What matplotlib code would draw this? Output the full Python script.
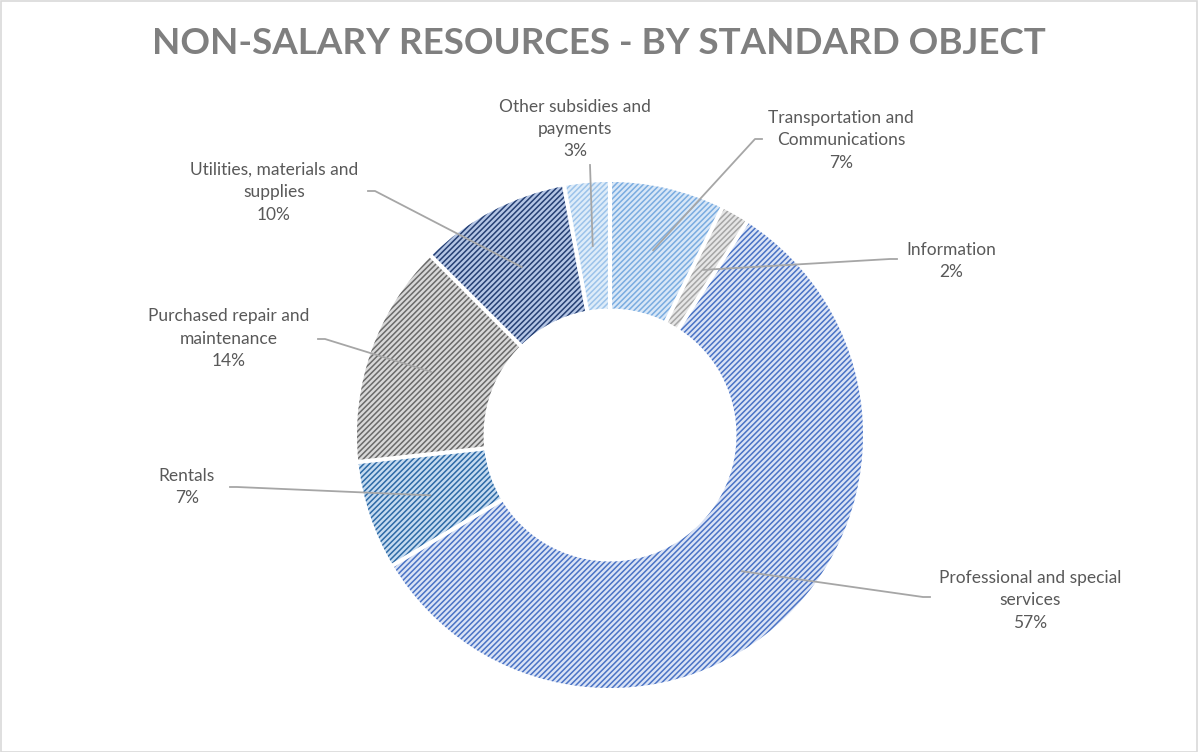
import numpy as np
import matplotlib.pyplot as plt
from matplotlib.patches import Rectangle

plt.rcParams['font.family'] = ['Lato', 'DejaVu Sans']
plt.rcParams['hatch.linewidth'] = 1.1

# data (clockwise from 12 o'clock)
categories = ['Transportation and\nCommunications', 'Information',
              'Professional and special\nservices', 'Rentals',
              'Purchased repair and\nmaintenance', 'Utilities, materials and\nsupplies',
              'Other subsidies and\npayments']
shares = [7.3, 1.8, 57.3, 6.9, 14.2, 9.6, 2.9]
pct_labels = ['7%', '2%', '57%', '7%', '14%', '10%', '3%']

face_cols = ['#d8e7f7', '#e6e6e6', '#dae3f5', '#c5dbf0', '#d8d8d8', '#b5c6e5', '#deecf9']
hatch_cols = ['#7aace0', '#a5a5a5', '#4a73c5', '#2d6aa6', '#6a6a6a', '#253f73', '#9cc3ea']

# label text centres in pixel coords (x, y from top)
label_pos = [(841, 140), (951, 261), (1030, 600), (187, 487),
             (229, 339), (274, 192), (575, 129)]

W, H = 1198, 752
fig = plt.figure(figsize=(W / 100, H / 100), dpi=100)
ax = fig.add_axes([0, 0, 1, 1])

cx, cy, R = 610, H - 435, 253
wedges, _ = ax.pie(shares, center=(cx, cy), radius=R, startangle=90,
                   counterclock=False, frame=True,
                   wedgeprops=dict(width=R * 0.5, linewidth=0))
ax.set_xlim(0, W)
ax.set_ylim(0, H)
ax.set_aspect('equal')
ax.axis('off')

for w, fc, hc in zip(wedges, face_cols, hatch_cols):
    w.set_facecolor(fc)
    w.set_edgecolor(hc)
    w.set_hatch('//////')
    w.set_linewidth(0)

# white separators between slices
for w in wedges:
    t = np.deg2rad(w.theta1)
    ax.plot([cx + R * 0.49 * np.cos(t), cx + R * 1.01 * np.cos(t)],
            [cy + R * 0.49 * np.sin(t), cy + R * 1.01 * np.sin(t)],
            color='white', lw=3, solid_capstyle='butt', zorder=3)

txt_col = '#595959'
for cat, pct, (lx, ly) in zip(categories, pct_labels, label_pos):
    ax.text(lx, H - ly, cat + '\n' + pct, ha='center', va='center', fontsize=12.5,
            color=txt_col, linespacing=1.5, zorder=5)

# leader lines: label anchor, short horizontal elbow, point in slice
anchors = [(762, 139, 'h'), (897, 259, 'h'), (930, 597, 'h'), (230, 487, 'h'),
           (318, 339, 'h'), (368, 191, 'h'), (590, 165, 'v')]
for w, (axp, ayp, kind) in zip(wedges, anchors):
    mid = np.deg2rad((w.theta1 + w.theta2) / 2)
    px, py = cx + 0.75 * R * np.cos(mid), cy + 0.75 * R * np.sin(mid)
    ay = H - ayp
    if kind == 'h':
        ex = axp + (7 if px > axp else -7)
        xs, ys = [axp, ex, px], [ay, ay, py]
    else:
        xs, ys = [axp, px], [ay, py]
    ax.plot(xs, ys, color='#a6a6a6', lw=1.3, zorder=4)

fig.text(0.5, 1 - 43 / H, 'NON-SALARY RESOURCES - BY STANDARD OBJECT',
         ha='center', va='center', fontsize=26.5, fontweight='bold', color='#7f7f7f')

fig.patches.append(Rectangle((0.5 / W, 0.5 / H), 1 - 1.5 / W, 1 - 1.5 / H,
                             transform=fig.transFigure, fill=False,
                             edgecolor='#d9d9d9', lw=1.2))

fig.savefig('out.png', dpi=100)
